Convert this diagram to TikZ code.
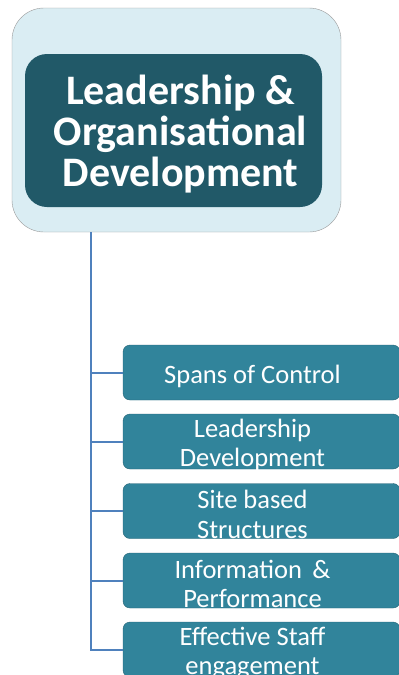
\documentclass[tikz,border=0pt]{standalone}
\usepackage{fontspec}
\setmainfont{Carlito}
\usepackage{tikz}
\usetikzlibrary{positioning}
\definecolor{framefill}{RGB}{218,237,243}
\definecolor{headfill}{RGB}{33,89,104}
\definecolor{itemfill}{RGB}{49,132,155}
\definecolor{linkblue}{RGB}{79,129,189}

\begin{document}
\begin{tikzpicture}[x=1pt, y=-1pt,
    itembox/.style={draw=itemfill!75!black, fill=itemfill, rounded corners=7pt,
        minimum width=277pt, minimum height=55pt,
        label={[itemtext]center:#1}},
    itemtext/.style={xshift=-9pt, yshift=-3.5pt, inner sep=0pt, text=white, align=center,
        font=\fontsize{26.5}{29.5}\selectfont},
    link/.style={draw=linkblue, line width=2pt}]
    \useasboundingbox (0,0) rectangle (399,675);
    \clip (0,0) rectangle (399,675);

    % Header
    \node[draw=gray!80, fill=framefill, rounded corners=32pt,
          minimum width=329pt, minimum height=224pt] (frame) at (176.5,120) {};
    \node[fill=headfill, rounded corners=22pt, minimum width=297pt, minimum height=153pt,
          label={[text=white, align=center, xshift=7pt, yshift=-4pt,
                  font=\bfseries\fontsize{42}{41}\selectfont]center:Leadership \&\\Organisational\\Development}]
          (head) at (173.5,130.5) {};

    % Items
    \node[itembox={Spans of Control}] (spans) at (261.5,372.5) {};
    \node[itembox={Leadership\\Development}] (lead) at (261.5,441.5) {};
    \node[itembox={Site based\\Structures}] (site) at (261.5,511) {};
    \node[itembox={Information \,\&\\Performance}] (info) at (261.5,580.5) {};
    \node[itembox={Effective Staff\\engagement}] (staff) at (261.5,649.5) {};

    % Connectors
    \coordinate (spine) at (frame.south -| 91,0);
    \foreach \n in {spans, lead, site, info, staff}
        \draw[link] (spine) |- (\n.west);
\end{tikzpicture}
\end{document}
